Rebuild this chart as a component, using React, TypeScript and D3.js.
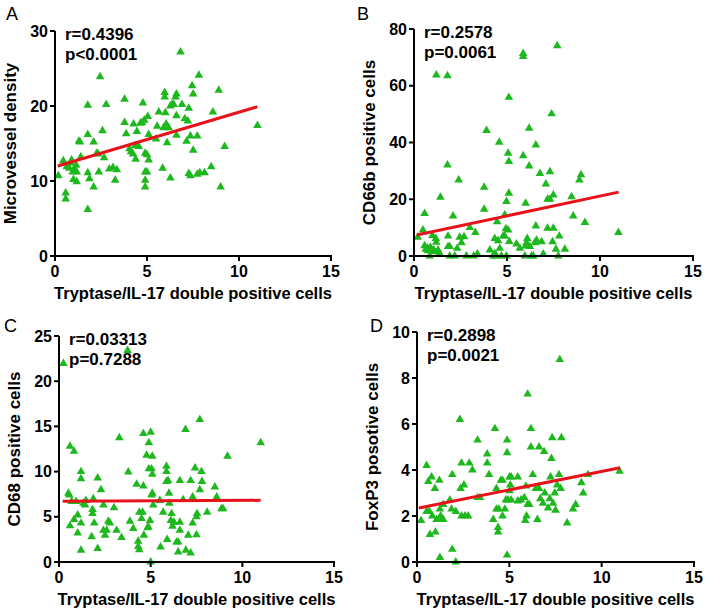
import React from "react";
import * as d3 from "d3";

// ---------- Data ----------
const xTicks = [0, 5, 10, 15];

// Panel A: Microvessel density
const xA = [0.18,0.45,0.64,0.78,0.9,0.96,1.15,1.18,1.18,1.0,1.3,1.36,1.4,0.58,0.58,1.78,1.78,1.78,1.87,1.78,2.1,2.1,2.27,2.35,2.38,2.45,2.58,2.67,2.78,2.95,3.15,3.27,3.36,3.78,3.78,3.87,4.05,4.13,4.24,4.27,4.36,4.38,4.45,4.55,4.64,4.73,4.78,4.85,4.9,4.9,4.9,4.9,5.0,5.0,5.04,5.09,5.09,5.55,5.49,5.64,5.85,5.9,5.96,5.96,6.0,6.04,6.09,6.18,6.27,6.27,6.36,6.45,6.55,6.6,6.6,6.6,6.82,6.9,7.05,7.15,7.22,7.27,7.27,7.36,7.36,7.45,7.51,7.51,7.73,7.73,7.82,7.87,8.13,8.49,8.58,8.9,9.0,9.22,11.0,0.85,1.05];
const yA = [10.7,12.7,11.9,11.7,12.8,11.2,12.1,11.2,9.9,10.2,15.3,15.2,13.2,8.4,7.6,20.1,16.2,11.1,10.3,6.2,15.2,9.2,13.7,13.6,11.2,23.9,16.7,13.1,20.2,11.6,11.8,10.1,11.5,20.9,17.8,16.3,14.3,13.9,13.6,17.6,14.7,12.9,16.6,14.6,17.7,17.8,20.4,18.1,13.7,11.2,10.1,9.2,11.2,13.5,18.6,16.2,12.8,17.3,15.6,19.2,11.7,17.1,21.2,21.8,19.1,17.6,15.1,17.1,20.0,10.4,20.2,20.2,21.2,21.6,18.7,16.1,27.2,20.2,18.3,15.3,18.0,19.7,11.0,10.7,16.0,22.7,21.6,14.1,16.0,10.9,24.1,11.1,11.1,11.9,19.2,22.1,9.2,14.6,17.4,12.4,11.6];
const yTicksA = [0, 10, 20, 30];
const lineXA = [0.15, 11.0];
const lineYA = [12.0, 19.9];

// Panel B: CD66b positive cells
const xB = [0.2,0.48,0.57,0.57,0.63,0.72,0.84,0.88,0.99,1.06,1.17,1.2,1.2,1.29,1.38,1.42,1.8,1.8,1.83,1.83,1.92,1.92,2.1,2.19,2.32,2.4,2.46,2.55,2.69,2.82,3.0,3.21,3.3,3.41,3.77,3.77,3.9,4.08,4.25,4.34,4.34,4.43,4.47,4.52,4.58,4.61,4.7,4.79,4.88,4.88,4.94,4.97,4.97,5.06,5.06,5.1,5.1,5.1,5.12,5.51,5.69,5.87,5.87,5.87,5.96,6.0,6.0,6.05,6.09,6.19,6.19,6.23,6.32,6.41,6.5,6.55,6.55,6.59,6.77,6.86,6.95,7.09,7.18,7.18,7.31,7.31,7.4,7.45,7.49,7.49,7.63,7.7,7.76,7.81,8.11,8.47,8.56,8.89,8.98,9.19,10.99,0.75,1.1];
const yB = [6.6,9.2,15.0,3.6,2.4,2.8,0,3.1,7.2,2.1,6.2,63.8,4.8,2.1,0.9,20.7,63.5,32.1,7.0,3.3,3.3,0,14.1,0,2.7,26.8,6.6,4.7,6.8,0,10.0,0,8.3,0.7,24.2,16.5,44.2,2.1,0,6.2,0.9,0,12.1,5.4,40.1,2.7,0,7.0,14.5,7.0,9.6,19.2,0,9.2,36.2,55.9,33.3,22.1,5.1,4.2,2.7,71.4,70.3,35.3,0,18.6,3.5,4.7,6.2,45.0,31.7,3.3,0,0,4.7,10.6,39.1,5.6,29.1,5.0,0.7,25.4,20.0,9.8,29.7,20.0,50.1,5.0,9.8,21.5,2.4,74.1,0,7.0,2.4,20.9,14.1,26.8,28.6,11.8,8.3,1.8,1.5];
const yTicksB = [0, 20, 40, 60, 80];
const lineXB = [0.15, 11.0];
const lineYB = [7.4, 22.5];

// Panel C: CD68 positive cells
const xC = [0.24,0.51,0.56,0.6,0.6,0.69,0.82,0.82,0.93,1.02,1.02,1.2,1.2,1.2,1.2,1.33,1.42,1.47,1.78,1.83,1.83,1.87,1.92,2.11,2.11,2.29,2.42,2.42,2.51,2.6,2.69,2.78,3.0,3.14,3.29,3.41,3.74,3.78,3.87,4.05,4.23,4.32,4.32,4.38,4.38,4.5,4.56,4.6,4.6,4.63,4.78,4.83,4.87,4.9,4.9,4.96,5.0,5.0,5.05,5.09,5.09,5.09,5.14,5.05,5.5,5.54,5.68,5.86,5.86,5.86,5.9,5.95,6.0,6.02,6.1,6.14,6.19,6.27,6.41,6.5,6.5,6.59,6.59,6.59,6.77,6.9,6.92,7.05,7.18,7.18,7.29,7.29,7.42,7.5,7.5,7.53,7.68,7.68,7.77,7.8,8.08,8.5,8.6,8.86,8.95,9.19,11.0];
const yC = [21.95,7.6,7.4,12.8,4.0,6.7,12.25,4.7,6.7,5.2,3.2,10.0,9.2,4.3,1.3,6.5,6.3,6.8,2.8,5.8,5.35,7.0,4.3,9.3,1.5,8.0,6.3,3.5,2.95,3.5,4.5,4.3,6.0,3.5,13.75,2.7,23.4,9.95,4.5,3.7,8.6,2.3,1.7,1.35,5.5,4.8,5.5,14.2,8.4,2.95,11.8,3.8,3.9,13.2,10.3,4.6,14.35,0,10.3,11.7,9.7,7.6,6.3,7.4,6.8,1.65,5.5,10.6,10.0,8.9,2.5,9.0,7.6,6.5,4.6,5.35,3.95,4.4,2.2,2.2,1.1,9.0,4.4,3.5,6.9,14.65,1.3,2.95,9.0,1.0,4.3,7.2,10.4,5.0,3.0,5.35,15.75,8.0,10.0,8.9,5.5,8.3,7.2,5.9,5.9,11.7,13.2];
const yTicksC = [0, 5, 10, 15, 20, 25];
const lineXC = [0.2, 11.0];
const lineYC = [6.72, 6.82];

// Panel D: FoxP3 positive cells
const xD = [0.22,0.52,0.52,0.61,0.67,0.7,0.79,0.83,0.97,1.0,1.06,1.21,1.24,1.24,1.28,1.33,1.42,1.42,1.78,1.87,1.91,1.91,2.1,2.1,2.32,2.36,2.41,2.41,2.54,2.6,2.77,2.83,3.0,3.28,3.28,3.41,3.8,3.8,3.9,4.13,4.22,4.3,4.3,4.39,4.39,4.43,4.54,4.63,4.63,4.76,4.81,4.88,4.88,4.88,4.93,5.01,5.01,5.05,5.1,5.1,5.46,5.46,5.63,5.81,5.86,5.9,5.93,5.99,5.99,6.08,6.17,6.17,6.27,6.43,6.52,6.61,6.61,6.68,6.82,6.88,6.92,7.1,7.19,7.23,7.28,7.32,7.37,7.46,7.5,7.59,7.69,7.73,7.78,7.82,8.13,8.45,8.59,8.9,9.0,9.26,10.97];
const yD = [1.8,4.2,2.2,3.5,2.2,1.2,3.7,2.0,3.2,1.3,1.85,3.55,2.3,0.2,2.0,1.85,1.85,2.5,2.7,2.3,3.8,0.55,2.2,0,6.2,3.2,4.3,2.0,3.35,2.0,2.0,4.3,4.0,5.3,2.8,2.8,4.7,4.3,3.8,1.85,5.8,3.2,2.3,1.5,1.3,2.3,3.55,3.55,2.0,2.3,2.7,4.75,5.3,0.3,2.7,3.7,3.1,3.35,2.7,3.7,3.7,2.65,2.7,2.8,1.8,3.3,2.0,7.3,2.5,2.5,5.8,5.0,3.8,3.2,1.85,5.0,3.2,2.75,2.55,4.8,3.0,2.35,2.75,3.7,4.5,5.4,2.55,3.0,2.25,3.35,3.8,8.8,3.2,5.4,1.7,2.3,2.5,3.45,3.0,3.8,3.95];
const yTicksD = [0, 2, 4, 6, 8, 10];
const lineXD = [0.1, 11.0];
const lineYD = [2.35, 4.1];

// ---------- Drawing ----------
const FONT = "Arial, 'Liberation Sans', Helvetica, sans-serif";
const GREEN = "#1DB81D";
const RED = "#E8121B";

type PanelProps = {
  letter: string; letterX: number; letterY: number;
  left: number; right: number; top: number; bottom: number;
  xs: number[]; ys: number[]; yMax: number; yTicks: number[];
  lineX: number[]; lineY: number[];
  yTitle: string; r: string; p: string;
};

function Panel(pr: PanelProps) {
  const x = d3.scaleLinear().domain([0, 15]).range([pr.left, pr.right]);
  const y = d3.scaleLinear().domain([0, pr.yMax]).range([pr.bottom, pr.top]);
  const tri = d3.symbol().type(d3.symbolTriangle).size(32)() as string;
  const line = d3.line<number>().x((_, i) => x(pr.lineX[i])).y((v) => y(v));
  const midY = (pr.top + pr.bottom) / 2;
  return (
    <g fontFamily={FONT}>
      <text x={pr.letterX} y={pr.letterY} fontSize={18} fill="#000">{pr.letter}</text>
      {pr.xs.map((v, i) => (
        <path key={i} d={tri} transform={`translate(${x(v)},${y(pr.ys[i])})`} fill={GREEN} />
      ))}
      <path d={line(pr.lineY) as string} stroke={RED} strokeWidth={3} fill="none" />
      <line x1={pr.left} x2={pr.left} y1={pr.top} y2={pr.bottom + 1} stroke="#000" strokeWidth={2} />
      <line x1={pr.left - 1} x2={pr.right + 1} y1={pr.bottom} y2={pr.bottom} stroke="#000" strokeWidth={2} />
      {pr.yTicks.map((t) => (
        <g key={t}>
          <line x1={pr.left - 5} x2={pr.left} y1={y(t)} y2={y(t)} stroke="#000" strokeWidth={2} />
          <text x={pr.left - 7} y={y(t) + 5.5} textAnchor="end" fontSize={16} fontWeight="bold">{t}</text>
        </g>
      ))}
      {xTicks.map((t) => (
        <g key={t}>
          <line x1={x(t)} x2={x(t)} y1={pr.bottom} y2={pr.bottom + 5} stroke="#000" strokeWidth={2} />
          <text x={x(t)} y={pr.bottom + 21} textAnchor="middle" fontSize={16} fontWeight="bold">{t}</text>
        </g>
      ))}
      <text x={(pr.left + pr.right) / 2} y={pr.bottom + 43} textAnchor="middle" fontSize={16.5} fontWeight="bold">
        Tryptase/IL-17 double positive cells
      </text>
      <text transform={`translate(${pr.left - 39},${midY}) rotate(-90)`} textAnchor="middle" fontSize={17} fontWeight="bold">
        {pr.yTitle}
      </text>
      <text x={pr.left + 10} y={pr.top + 9} fontSize={17} fontWeight="bold">{pr.r}</text>
      <text x={pr.left + 10} y={pr.top + 29} fontSize={17} fontWeight="bold">{pr.p}</text>
    </g>
  );
}

export default function App() {
  return (
    <svg width={706} height={613} style={{ position: "absolute", left: 0, top: 0, background: "#fff" }}>
      <rect width={706} height={613} fill="#fff" />
      <Panel letter="A" letterX={6} letterY={20} left={55} right={331} top={31} bottom={256}
        xs={xA} ys={yA} yMax={30} yTicks={yTicksA} lineX={lineXA} lineY={lineYA}
        yTitle="Microvessel density" r="r=0.4396" p="p<0.0001" />
      <Panel letter="B" letterX={357} letterY={20} left={414} right={693} top={29} bottom={256}
        xs={xB} ys={yB} yMax={80} yTicks={yTicksB} lineX={lineXB} lineY={lineYB}
        yTitle="CD66b positive cells" r="r=0.2578" p="p=0.0061" />
      <Panel letter="C" letterX={4} letterY={332} left={59} right={334} top={336} bottom={562}
        xs={xC} ys={yC} yMax={25} yTicks={yTicksC} lineX={lineXC} lineY={lineYC}
        yTitle="CD68 positive cells" r="r=0.03313" p="p=0.7288" />
      <Panel letter="D" letterX={370} letterY={332} left={417} right={694} top={332} bottom={562}
        xs={xD} ys={yD} yMax={10} yTicks={yTicksD} lineX={lineXD} lineY={lineYD}
        yTitle="FoxP3 posotive cells" r="r=0.2898" p="p=0.0021" />
    </svg>
  );
}
